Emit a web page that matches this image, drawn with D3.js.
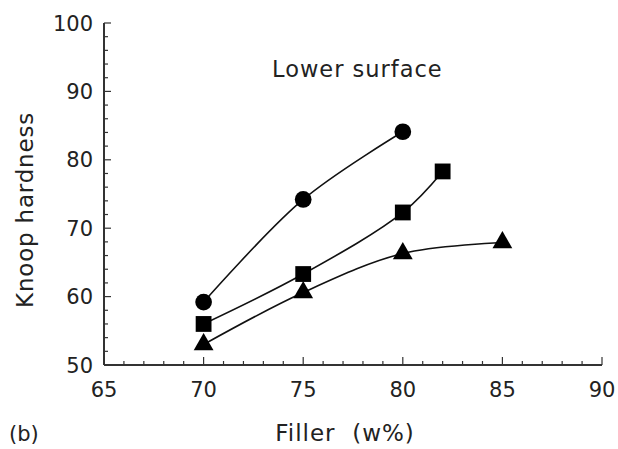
<!DOCTYPE html>
<html>
<head>
<meta charset="utf-8">
<script src="https://cdn.jsdelivr.net/npm/d3@7"></script>
<style>
  html, body { margin: 0; padding: 0; background: #fff; }
  svg { display: block; }
  text { font-family: "DejaVu Sans", sans-serif; fill: #222; }
</style>
</head>
<body>
<svg id="chart" width="618" height="449"></svg>
<script>
// Knoop hardness of the lower surface vs. filler content
const fillerCircle = [70, 75, 80];
const hardnessCircle = [59.2, 74.2, 84.1];

const fillerSquare = [70, 75, 80, 82];
const hardnessSquare = [56.0, 63.3, 72.3, 78.3];

const fillerTriangle = [70, 75, 80, 85];
const hardnessTriangle = [53.0, 60.6, 66.3, 67.9];

const xTicks = [65, 70, 75, 80, 85, 90];
const yTicks = [50, 60, 70, 80, 90, 100];

const titleText = "Lower surface";
const xLabel = "Filler\u00a0\u00a0(w%)";
const yLabel = "Knoop hardness";
const panelLabel = "(b)";

const svg = d3.select("#chart");
const axisColor = "#333";

const x = d3.scaleLinear().domain([65, 90]).range([104, 602]);
const y = d3.scaleLinear().domain([50, 100]).range([365, 23]);

// Y axis: line, major ticks every 10, minor every 2 (pointing inward)
const yAxisG = svg.append("g");
yAxisG.append("line")
  .attr("x1", x(65)).attr("x2", x(65))
  .attr("y1", y(50)).attr("y2", y(100))
  .attr("stroke", axisColor).attr("stroke-width", 2);
yAxisG.selectAll("line.minor")
  .data(d3.range(50, 100.1, 2))
  .join("line")
  .attr("class", "minor")
  .attr("x1", x(65)).attr("x2", d => x(65) + (d % 10 === 0 ? 7 : 4))
  .attr("y1", d => y(d)).attr("y2", d => y(d))
  .attr("stroke", axisColor).attr("stroke-width", 1.2);
yAxisG.selectAll("text")
  .data(yTicks)
  .join("text")
  .attr("x", x(65) - 11)
  .attr("y", d => y(d))
  .attr("dy", "0.36em")
  .attr("text-anchor", "end")
  .attr("font-size", 21)
  .text(d => d);

// X axis: line, major ticks every 5, minor every 1 (pointing up)
const xAxisG = svg.append("g");
xAxisG.append("line")
  .attr("x1", x(65)).attr("x2", x(90))
  .attr("y1", y(50)).attr("y2", y(50))
  .attr("stroke", axisColor).attr("stroke-width", 2);
xAxisG.selectAll("line.minor")
  .data(d3.range(65, 90.1, 1))
  .join("line")
  .attr("class", "minor")
  .attr("x1", d => x(d)).attr("x2", d => x(d))
  .attr("y1", y(50)).attr("y2", d => y(50) - (d % 5 === 0 ? 8 : 4))
  .attr("stroke", axisColor).attr("stroke-width", 1.2);
xAxisG.selectAll("text")
  .data(xTicks)
  .join("text")
  .attr("x", d => x(d))
  .attr("y", 397)
  .attr("text-anchor", "middle")
  .attr("font-size", 21)
  .text(d => d);

// Series curves
const line = d3.line()
  .x(d => x(d[0]))
  .y(d => y(d[1]))
  .curve(d3.curveCatmullRom.alpha(0.5));

const series = [
  { xs: fillerCircle, ys: hardnessCircle, symbol: d3.symbolCircle, size: 220 },
  { xs: fillerSquare, ys: hardnessSquare, symbol: d3.symbolSquare, size: 250 },
  { xs: fillerTriangle, ys: hardnessTriangle, symbol: d3.symbolTriangle, size: 170 }
];

series.forEach(s => {
  const pts = s.xs.map((v, i) => [v, s.ys[i]]);
  svg.append("path")
    .datum(pts)
    .attr("d", line)
    .attr("fill", "none")
    .attr("stroke", "#111")
    .attr("stroke-width", 1.6);
  svg.append("g")
    .selectAll("path")
    .data(pts)
    .join("path")
    .attr("transform", d => `translate(${x(d[0])},${y(d[1])})`)
    .attr("d", d3.symbol().type(s.symbol).size(s.size))
    .attr("fill", "#000");
});

// Labels
svg.append("text")
  .attr("x", 272).attr("y", 77)
  .attr("font-size", 22.5)
  .attr("letter-spacing", 1)
  .text(titleText);

svg.append("text")
  .attr("transform", "translate(33,210) rotate(-90)")
  .attr("text-anchor", "middle")
  .attr("font-size", 23)
  .attr("letter-spacing", 0.8)
  .text(yLabel);

svg.append("text")
  .attr("x", 345).attr("y", 441)
  .attr("text-anchor", "middle")
  .attr("font-size", 23)
  .attr("letter-spacing", 1)
  .text(xLabel);

svg.append("text")
  .attr("x", 9).attr("y", 441)
  .attr("font-size", 21)
  .text(panelLabel);
</script>
</body>
</html>
